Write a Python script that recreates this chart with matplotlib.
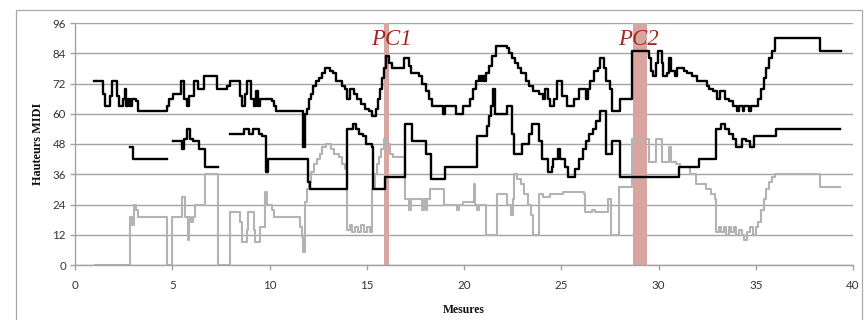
import numpy as np
import matplotlib
matplotlib.use("Agg")
import matplotlib.pyplot as plt
from matplotlib.patches import Rectangle

nan = np.nan

# --- data: (measure, MIDI pitch) breakpoints, values hold until the next breakpoint ---
top_x = [1.00, 1.46, 1.55, 1.80, 1.92, 2.15, 2.25, 2.45, 2.55, 2.62, 2.70, 2.85, 2.95, 3.15, 3.25,
         4.72, 4.85, 5.02, 5.45, 5.58, 5.75, 5.85, 6.10, 6.32, 6.65, 7.32, 7.80, 7.95, 8.50, 8.58,
         8.72, 8.85, 9.05, 9.20, 9.30, 9.42, 9.50, 10.15, 10.25, 10.35, 11.70, 11.82, 11.95, 12.05,
         12.15, 12.25, 12.40, 12.55, 12.68, 12.85, 13.10, 13.25, 13.40, 13.75, 13.88, 14.00, 14.12,
         14.35, 14.50, 14.70, 14.90, 15.10, 15.25, 15.45, 15.58, 15.68, 15.78, 15.88, 15.98, 16.15,
         16.28, 16.90, 17.15, 17.30, 17.70, 17.85, 18.05, 18.20, 18.38, 18.92, 19.00, 19.60, 19.95,
         20.30, 20.45, 20.60, 20.75, 20.85, 20.95, 21.05, 21.15, 21.30, 21.45, 21.62, 22.20, 22.30,
         22.45, 22.60, 22.78, 22.95, 23.20, 23.35, 23.55, 23.85, 24.05, 24.15, 24.30, 24.42, 24.65,
         24.80, 25.05, 25.30, 25.65, 25.90, 26.25, 26.35, 26.50, 26.70, 26.88, 26.99, 27.22, 27.32,
         27.50, 27.60, 28.02, 28.66, 29.50, 29.62, 29.72, 29.85, 29.97, 30.18, 30.25, 30.45, 30.55,
         30.65, 30.85, 30.95, 31.30, 31.45, 31.70, 31.96, 32.50, 32.62, 32.82, 33.00, 33.18, 33.40,
         33.62, 33.85, 34.05, 34.15, 34.32, 34.42, 34.65, 34.75, 35.10, 35.25, 35.40, 35.55, 35.70,
         35.85, 36.00, 38.30, 39.40]
top_y = [73, 68, 63, 67, 73, 67, 63, 66, 70, 63, 66, 63, 66, 65, 61,
         63, 66, 68, 73, 66, 63, 67, 73, 70, 75, 70, 71, 73, 67, 63,
         68, 73, 66, 63, 69, 63, 66, 65, 63, 61, 47, 60, 62, 66,
         68, 71, 73, 74, 76, 78, 77, 76, 73, 71, 70, 66, 70,
         68, 66, 64, 62, 61, 59, 62, 66, 70, 74, 78, 83, 80,
         78, 82, 79, 76, 75, 72, 69, 66, 63, 60, 63, 60, 63,
         66, 70, 73, 75, 73, 75, 73, 76, 79, 83, 87, 86, 84,
         82, 80, 78, 76, 73, 71, 69, 68, 66, 70, 66, 63, 66,
         73, 67, 63, 66, 70, 66, 70, 73, 77, 78, 82, 78, 73,
         70, 61, 66, 85, 82, 77, 75, 80, 85, 80, 75, 76, 82,
         77, 75, 78, 77, 76, 75, 73, 71, 70, 69, 66, 69, 66,
         65, 63, 61, 63, 61, 63, 61, 63, 66, 70, 74, 78, 82,
         85, 90, 85, 85]

mid_x = [2.85, 3.00, 4.72, 5.02, 5.50, 5.62, 5.74, 5.92, 6.05, 6.36, 6.66, 7.37,
         7.97, 8.70, 8.95, 9.15, 9.45, 9.62, 9.82, 9.92, 12.00, 12.06, 14.00, 14.28,
         14.45, 14.62, 14.80, 14.97, 15.28, 15.33, 15.96, 16.95, 17.33, 18.05, 18.30,
         19.00, 20.67, 21.20, 21.30, 21.40, 21.48, 21.58, 22.22, 22.46, 22.55, 23.00,
         23.35, 23.50, 23.85, 24.00, 24.30, 24.50, 24.58, 24.85, 24.92, 25.20, 25.33,
         25.70, 25.90, 26.10, 26.28, 26.45, 26.62, 26.80, 26.97, 27.28, 27.62, 28.00,
         31.05, 32.08, 32.97, 33.22, 33.40, 33.65, 33.85, 34.00, 34.30, 34.50, 34.68,
         34.92, 36.02, 39.35]
mid_y = [47, 42, nan, 49, 46, 50, 54, 50, 49, 46, 39, nan,
         52, 54, 52, 54, 52, 51, 37, 42, 33, 30, 54, 56,
         54, 52, 51, 48, 47, 30, 35, 56, 49, 44, 34,
         39, 51, 55, 59, 63, 70, 60, 63, 52, 44, 48,
         52, 56, 49, 42, 37, 39, 42, 46, 42, 39, 35,
         38, 42, 46, 49, 52, 54, 57, 61, 44, 49, 35,
         39, 42, 54, 56, 54, 52, 50, 47, 50, 49, 47,
         51, 54, 54]

low_x = [1.03, 2.83, 2.88, 2.92, 2.96, 3.02, 3.12, 3.22, 4.72, 4.98, 5.50, 5.68, 5.80, 5.88,
         5.96, 6.06, 6.15, 6.70, 7.37, 7.97, 8.50, 8.58, 8.82, 8.92, 9.18, 9.28, 9.52, 9.78,
         9.88, 10.12, 10.25, 11.58, 11.66, 11.74, 11.84, 11.92, 12.02, 12.15, 12.28, 12.42,
         12.58, 12.72, 12.88, 13.18, 13.32, 13.55, 13.75, 13.90, 14.00, 14.12, 14.25, 14.40,
         14.55, 14.70, 14.85, 15.00, 15.15, 15.28, 15.40, 15.52, 15.62, 15.75, 15.88, 16.05,
         16.18, 16.35, 16.98, 17.18, 17.30, 17.85, 17.95, 18.05, 18.12, 18.25, 18.95, 19.62,
         19.75, 19.95, 20.52, 20.58, 20.65, 20.75, 21.12, 21.68, 22.20, 22.40, 22.50, 22.58,
         22.75, 22.92, 23.10, 23.28, 23.45, 23.53, 23.85, 24.05, 24.40, 25.10, 25.80, 26.15,
         26.22, 26.60, 26.75, 27.38, 27.58, 27.97, 28.65, 29.52, 29.85, 30.20, 30.55, 30.65,
         30.92, 31.10, 31.62, 31.95, 32.45, 32.70, 32.90, 32.98, 33.10, 33.22, 33.35, 33.48,
         33.60, 33.75, 33.88, 34.00, 34.15, 34.30, 34.42, 34.55, 34.70, 34.85, 35.00, 35.12,
         35.28, 35.42, 35.55, 35.70, 35.85, 36.00, 38.30, 39.35]
low_y = [0, 19, 16, 19, 16, 24, 22, 19, 0, 19, 27, 19, 10, 19,
         17, 19, 24, 36, 0, 21, 17, 9, 14, 21, 14, 9, 15, 29,
         24, 22, 19, 15, 11, 5, 25, 30, 33, 37, 40, 42,
         44, 47, 48, 46, 44, 43, 40, 38, 14, 16, 13, 15,
         13, 16, 13, 15, 13, 30, 36, 40, 43, 46, 50, 48,
         44, 43, 26, 22, 26, 22, 26, 22, 26, 30, 24, 22,
         24, 25, 32, 24, 22, 24, 12, 28, 24, 20, 26, 36,
         34, 32, 28, 24, 20, 12, 28, 27, 28, 29, 29, 28,
         21, 22, 21, 26, 12, 31, 50, 41, 50, 41, 47, 41,
         40, 39, 36, 32, 30, 28, 26, 13, 15, 13, 15, 12,
         15, 13, 15, 12, 14, 12, 10, 13, 15, 12, 15, 17,
         22, 26, 30, 33, 35, 36, 31, 31]

pc_labels = ["PC1", "PC2"]
pc_spans = [(15.9, 16.12), (28.68, 29.42)]
pc_label_x = [16.25, 28.95]

y_ticks = list(range(0, 97, 12))
x_ticks = list(range(0, 41, 5))

# --- figure ---
W, H = 865, 320
fig = plt.figure(figsize=(W / 100, H / 100), dpi=100)
fig.patch.set_facecolor("white")

# outer chart frame
fig.patches.append(Rectangle((16 / W, -0.05), (862 - 16) / W, (310 / H) + 0.05,
                             transform=fig.transFigure, fill=False,
                             edgecolor="#a8a8a8", linewidth=0.9, zorder=0))

ax = fig.add_axes([75 / W, (H - 265) / H, (853 - 75) / W, (265 - 23) / H])
ax.set_xlim(0, 40)
ax.set_ylim(0, 96)

grid_c = "#a3a3a3"
ax.set_yticks(y_ticks)
ax.set_xticks(x_ticks)
ax.yaxis.grid(True, color=grid_c, linewidth=1.0, zorder=0)
ax.set_axisbelow(True)
for s in ["top", "right"]:
    ax.spines[s].set_visible(False)
for s in ["left", "bottom"]:
    ax.spines[s].set_color(grid_c)
    ax.spines[s].set_linewidth(1.0)
ax.tick_params(axis="both", colors=grid_c, length=3.5, width=1.0, direction="out")
ax.tick_params(axis="y", pad=3, labelcolor="#333333", labelsize=8.3)
ax.tick_params(axis="x", pad=7, labelcolor="#333333", labelsize=8.3)
for lab in ax.get_xticklabels() + ax.get_yticklabels():
    lab.set_family("Lato")

# PC bands
band_c = "#d9a5a1"
for (a, b) in pc_spans:
    ax.axvspan(a, b, color=band_c, zorder=1.5, linewidth=0)

# series
ax.plot(low_x, low_y, drawstyle="steps-post", color="#b3b3b3", linewidth=1.5, zorder=2)
ax.plot(mid_x, mid_y, drawstyle="steps-post", color="black", linewidth=1.7, zorder=3)
ax.plot(top_x, top_y, drawstyle="steps-post", color="black", linewidth=1.7, zorder=3)

for lbl, xp in zip(pc_labels, pc_label_x):
    ax.text(xp, 87.3, lbl, ha="center", va="baseline", fontsize=16.5,
            fontstyle="italic", family="Liberation Serif", color="#a0281f", zorder=4)

ax.set_xlabel("Mesures", family="Liberation Serif", fontweight="bold",
              fontsize=8.5, labelpad=10, color="#111111")
ax.set_ylabel("Hauteurs MIDI", family="Liberation Serif", fontweight="bold",
              fontsize=8.8, labelpad=6, color="#111111")

fig.savefig("out.png", dpi=100, facecolor="white")
